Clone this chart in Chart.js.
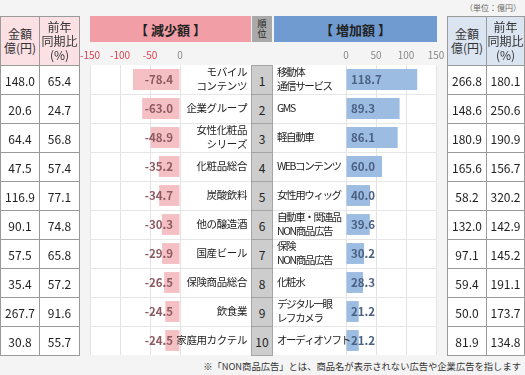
<!DOCTYPE html>
<html>
<head>
<meta charset="utf-8">
<script src="https://cdn.jsdelivr.net/npm/chart.js@4"></script>
<style>
  body { margin: 0; background: #f4f4f4; font-family: "Noto Sans CJK JP", sans-serif; }
  #wrap { position: relative; width: 525px; height: 375px; overflow: hidden; }
  .abs { position: absolute; }
  .cell {
    position: absolute; box-sizing: border-box; border: 1px solid #9a9a9a;
    display: flex; align-items: center; justify-content: center; text-align: center;
    font-size: 12px; color: #222; background: #fff;
  }
  .hd { line-height: 14px; color: #333; }
  .head {
    position: absolute; top: 16px; height: 26px; display: flex; align-items: center;
    justify-content: center; font-size: 13px; font-weight: bold; color: #222;
  }
  canvas { position: absolute; }
</style>
</head>
<body>
<div id="wrap">
  <div class="abs" style="right:4px;top:2px;font-size:8px;color:#666">（単位：億円）</div>
  <div class="abs" style="left:90px;top:65px;width:347px;height:290px;background:#fff"></div>
  <div class="head" style="left:90px;width:161px;background:#f19ea6">【 減少額 】</div>
  <div class="head" style="left:252px;width:20px;background:#a9a9a9;font-size:9px;font-weight:normal;line-height:10px">順<br>位</div>
  <div class="head" style="left:274px;width:163px;background:#6f9bd1">【 増加額 】</div>
  <canvas id="dec" width="181" height="311" style="left:70px;top:44px"></canvas>
  <canvas id="inc" width="186" height="311" style="left:272px;top:44px"></canvas>
  <div class="abs" style="right:4px;top:359px;font-size:9.3px;color:#333">※「NON商品広告」とは、商品名が表示されない広告や企業広告を指します</div>
</div>
<script>
const decCats = ['モバイル\nコンテンツ', '企業グループ', '女性化粧品\nシリーズ', '化粧品総合', '炭酸飲料',
  '他の醸造酒', '国産ビール', '保険商品総合', '飲食業', '家庭用カクテル'];
const decValues = [-78.4, -63.0, -48.9, -35.2, -34.7, -30.3, -29.9, -26.5, -24.5, -24.5];
const decAmount = [148.0, 20.6, 64.4, 47.5, 116.9, 90.1, 57.5, 35.4, 267.7, 30.8];
const decYoY = [65.4, 24.7, 56.8, 57.4, 77.1, 74.8, 65.8, 57.2, 91.6, 55.7];

const incCats = ['移動体\n通信サービス', 'GMS', '軽自動車', 'WEBコンテンツ', '女性用ウィッグ',
  '自動車・関連品\nNON商品広告', '保険\nNON商品広告', '化粧水', 'デジタル一眼\nレフカメラ', 'オーディオソフト'];
const incValues = [118.7, 89.3, 86.1, 60.0, 40.0, 39.6, 30.2, 28.3, 21.2, 21.2];
const incAmount = [266.8, 148.6, 180.9, 165.6, 58.2, 132.0, 97.1, 59.4, 50.0, 81.9];
const incYoY = [180.1, 250.6, 190.9, 156.7, 320.2, 142.9, 145.2, 191.1, 173.7, 134.8];

const ranks = [1, 2, 3, 4, 5, 6, 7, 8, 9, 10];
const decTicks = [-150, -100, -50, 0];
const incTicks = [0, 50, 100, 150];

const FONT = '"Noto Sans CJK JP", sans-serif';
const wrap = document.getElementById('wrap');

function cell(x, y, w, h, html, extra) {
  const d = document.createElement('div');
  d.className = 'cell';
  d.style.cssText = `left:${x}px;top:${y}px;width:${w}px;height:${h}px;` + (extra || '');
  d.innerHTML = html;
  wrap.appendChild(d);
  return d;
}

function sideTable(x, w1, w2, amounts, yoy, headBg) {
  cell(x, 16, w1, 50, '金額<br>億(円)', 'background:' + headBg).classList.add('hd');
  cell(x + w1 - 1, 16, w2, 50, '前年<br>同期比<br>(%)', 'background:' + headBg).classList.add('hd');
  amounts.forEach((a, i) => {
    const y = 65 + i * 29;
    cell(x, y, w1, 30, a.toFixed(1));
    cell(x + w1 - 1, y, w2, 30, yoy[i].toFixed(1));
  });
}

sideTable(0, 40, 41, decAmount, decYoY, '#fbe0e4');
sideTable(447, 40, 39, incAmount, incYoY, '#dbe5f2');
ranks.forEach((r, i) => cell(251, 65 + i * 29, 22, 30, r, 'background:#cdcdcd;border-color:#a5a5a5'));

// row separators + category names + value text
function sidePlugin(side, cats) {
  return {
    id: 'side_' + side,
    beforeDatasetsDraw(chart) {
      const { ctx, chartArea, scales: { y } } = chart;
      const x0 = side === 'dec' ? chartArea.left : 0;
      const x1 = side === 'dec' ? chart.width : chartArea.right;
      ctx.save();
      ctx.strokeStyle = '#e6e6e6';
      ctx.lineWidth = 1;
      for (let i = 0; i < cats.length - 1; i++) {
        const yy = Math.round((y.getPixelForValue(i) + y.getPixelForValue(i + 1)) / 2) + 0.5;
        ctx.beginPath();
        ctx.moveTo(x0, yy);
        ctx.lineTo(x1, yy);
        ctx.stroke();
      }
      ctx.restore();
    },
    afterDatasetsDraw(chart) {
      const { ctx, scales: { x } } = chart;
      const zero = x.getPixelForValue(0);
      const vals = chart.data.datasets[0].data;
      ctx.save();
      ctx.textBaseline = 'middle';
      chart.getDatasetMeta(0).data.forEach((bar, i) => {
        ctx.letterSpacing = '0px';
        ctx.font = 'bold 11.5px ' + FONT;
        if (side === 'dec') {
          ctx.fillStyle = '#8e5a61';
          ctx.textAlign = 'right';
          ctx.fillText(vals[i].toFixed(1), zero - 7, bar.y);
        } else {
          ctx.fillStyle = '#4b6183';
          ctx.textAlign = 'left';
          ctx.fillText(vals[i].toFixed(1), zero + 5, bar.y);
        }
        const lines = cats[i].split('\n');
        ctx.font = '10.5px ' + FONT;
        ctx.letterSpacing = side === 'dec' ? '-0.4px' : '-1.4px';
        ctx.fillStyle = '#222';
        ctx.textAlign = side === 'dec' ? 'right' : 'left';
        const lx = side === 'dec' ? chart.width - 4 : 5;
        lines.forEach((ln, k) => {
          ctx.fillText(ln, lx, bar.y + (k - (lines.length - 1) / 2) * 14);
        });
      });
      ctx.restore();
    }
  };
}

function makeChart(id, side, cats, values, ticks, color, padding) {
  return new Chart(document.getElementById(id), {
    type: 'bar',
    data: {
      labels: cats,
      datasets: [{
        data: values,
        backgroundColor: color,
        borderWidth: 0,
        barPercentage: 0.72,
        categoryPercentage: 1
      }]
    },
    options: {
      indexAxis: 'y',
      responsive: false,
      animation: false,
      layout: { padding: padding },
      plugins: { legend: { display: false }, tooltip: { enabled: false } },
      scales: {
        x: {
          position: 'top',
          min: ticks[0],
          max: ticks[ticks.length - 1],
          afterFit: (s) => { s.height = 21; },
          afterBuildTicks: (s) => { s.ticks = ticks.map(v => ({ value: v })); },
          border: { display: false },
          grid: { color: '#e3e3e3', drawTicks: false },
          ticks: {
            padding: 4,
            font: { size: 10, family: FONT },
            color: (c) => (c.tick && c.tick.value < 0) ? '#e0404f' : '#888'
          }
        },
        y: { display: false }
      }
    },
    plugins: [sidePlugin(side, cats)]
  });
}

makeChart('dec', 'dec', decCats, decValues, decTicks, '#f5c0c4', { left: 20, right: 71, top: 0, bottom: 0 });
makeChart('inc', 'inc', incCats, incValues, incTicks, '#9dbce2', { left: 74, right: 22, top: 0, bottom: 0 });
</script>
</body>
</html>
